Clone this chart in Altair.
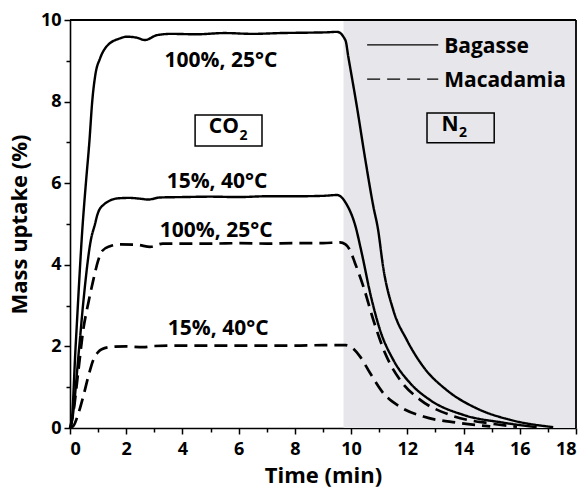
import altair as alt
import pandas as pd

FONT = "Open Sans"

# ---- curve data (time in min, mass uptake in %) ----
bag100_t = [0, 0.05, 0.2, 0.45, 0.57, 0.69, 0.79, 0.9, 1.07, 1.3, 1.78, 2.02, 2.35, 2.67, 3.1, 3.6,
            4.5, 5.5, 6.5, 7.5, 8.5, 9.2, 9.5, 9.8, 9.9, 10.2, 10.5, 10.8, 10.95, 11.15, 11.5, 11.98,
            12.57, 13.4, 14.47, 15.66, 17.19]
bag100_y = [0, 0.1, 2.0, 4.98, 6.04, 7.02, 8.0, 8.65, 9.06, 9.35, 9.55, 9.59, 9.57, 9.51, 9.63, 9.66,
            9.65, 9.68, 9.66, 9.68, 9.69, 9.70, 9.71, 9.5, 9.1, 7.9, 6.6, 5.4, 4.9, 3.9, 2.89, 2.16,
            1.5, 0.93, 0.48, 0.2, 0.02]

bag15_t = [0, 0.05, 0.33, 0.47, 0.74, 0.89, 0.97, 1.19, 1.72, 2.1, 2.5, 2.79, 3.2, 4, 5, 6, 7, 8, 9,
           9.5, 9.85, 10.14, 10.38, 10.68, 11.03, 11.5, 12.1, 12.8, 14.0, 15.42, 16.6]
bag15_y = [0, 0.1, 2.0, 3.06, 4.6, 5.0, 5.22, 5.47, 5.63, 5.64, 5.62, 5.6, 5.65, 5.66, 5.67, 5.66,
           5.68, 5.68, 5.69, 5.71, 5.47, 4.98, 4.28, 3.3, 2.4, 1.67, 1.1, 0.69, 0.32, 0.13, 0.02]

mac100_t = [0, 0.1, 0.3, 0.47, 0.65, 0.83, 1.0, 1.12, 1.4, 1.8, 2.4, 2.85, 3.3, 4, 5, 6, 7, 8, 9,
            9.6, 9.8, 9.96, 10.14, 10.44, 10.79, 11.21, 11.74, 12.46, 13.52, 14.95, 15.9]
mac100_y = [0, 0.3, 1.42, 2.4, 3.06, 3.63, 4.1, 4.32, 4.45, 4.5, 4.49, 4.44, 4.52, 4.52, 4.52, 4.53,
            4.52, 4.53, 4.53, 4.55, 4.5, 4.36, 4.04, 3.46, 2.65, 1.83, 1.18, 0.69, 0.32, 0.11, 0.03]

mac15_t = [0, 0.12, 0.3, 0.47, 0.65, 0.83, 1.0, 1.13, 1.5, 2, 2.6, 3, 4, 5, 6, 7, 8, 9, 9.8, 9.96,
           10.32, 10.68, 11.15, 11.74, 12.57, 13.76, 14.95]
mac15_y = [0, 0.05, 0.36, 0.77, 1.26, 1.67, 1.86, 1.93, 1.99, 2.0, 1.98, 2.01, 2.02, 2.02, 2.02, 2.02,
           2.02, 2.03, 2.03, 2.0, 1.75, 1.34, 0.85, 0.52, 0.28, 0.13, 0.04]

materials = ["Bagasse", "Macadamia"]

# ---- gas switch region and frame ----
n2_start = [9.73]
n2_end = [18]
x_domain = [0, 18]
y_domain = [0, 10]

# ---- curve labels ----
lab_text = ["100%, 25°C", "15%, 40°C", "100%, 25°C", "15%, 40°C"]
lab_x = [5.37, 5.23, 5.2, 5.27]
lab_y = [8.85, 5.88, 4.68, 2.28]

# ---- gas boxes ----
box_x1 = [4.45, 12.7]
box_x2 = [6.83, 15.09]
box_y1 = [6.91, 6.99]
box_y2 = [7.67, 7.72]
box_fill = ["#ffffff", "#e7e6ea"]
gas_main = ["CO", "N"]
gas_main_x = [6.01, 13.82]
gas_main_y = [7.23, 7.28]
gas_sub_x = [6.03, 13.84]
gas_sub_y = [7.06, 7.13]

# ---- legend ----
leg_x1 = [10.57, 10.57]
leg_x2 = [13.1, 13.1]
leg_y = [9.39, 8.55]
leg_text_x = [13.31, 13.31]
leg_text_y = [9.19, 8.36]

rows = []
for name, mat, ts, ys_ in [("bag100", "Bagasse", bag100_t, bag100_y),
                            ("bag15", "Bagasse", bag15_t, bag15_y),
                            ("mac100", "Macadamia", mac100_t, mac100_y),
                            ("mac15", "Macadamia", mac15_t, mac15_y)]:
    for t, v in zip(ts, ys_):
        rows.append({"curve": name, "material": mat, "t": t, "m": v})
curves = pd.DataFrame(rows)

xs = alt.Scale(domain=x_domain, nice=False, zero=False)
ys = alt.Scale(domain=y_domain, nice=False, zero=False)

common_axis = dict(grid=False, domainColor="black", domainWidth=1.6, tickColor="black", tickWidth=1.5,
                   labelFont=FONT, labelFontWeight="bold", labelFontSize=18, labelColor="black",
                   titleFont=FONT, titleFontWeight="bold", titleFontSize=22, titleColor="black")

x_axis = alt.Axis(values=list(range(0, 19, 2)), tickSize=6, labelPadding=6, title="Time (min)",
                  titlePadding=7, orient="bottom", **common_axis)
y_axis = alt.Axis(values=list(range(0, 11, 2)), tickSize=6, labelPadding=3, title="Mass uptake (%)",
                  titlePadding=9, orient="left", **common_axis)
x_minor = alt.Axis(values=list(range(1, 18, 2)), tickSize=4, labels=False, title=None, domain=False,
                   grid=False, tickColor="black", tickWidth=1.5, orient="bottom")
y_minor = alt.Axis(values=list(range(1, 10, 2)), tickSize=4, labels=False, title=None, domain=False,
                   grid=False, tickColor="black", tickWidth=1.5, orient="left")

shade_df = pd.DataFrame({"x": n2_start, "x2": n2_end, "y": [y_domain[0]], "y2": [y_domain[1]]})
shade = alt.Chart(shade_df).mark_rect(color="#e7e6ea").encode(
    x=alt.X("x:Q", scale=xs, axis=x_axis), x2="x2:Q",
    y=alt.Y("y:Q", scale=ys, axis=y_axis), y2="y2:Q")

minor = alt.Chart(shade_df).mark_point(opacity=0).encode(
    x=alt.X("x:Q", scale=xs, axis=x_minor),
    y=alt.Y("y:Q", scale=ys, axis=y_minor))

dash_scale = alt.Scale(domain=materials, range=[[1, 0], [13, 7]])

lines = alt.Chart(curves).mark_line(color="black", interpolate="monotone").encode(
    x=alt.X("t:Q", scale=xs, axis=None),
    y=alt.Y("m:Q", scale=ys, axis=None),
    detail="curve:N",
    strokeDash=alt.StrokeDash("material:N", scale=dash_scale, legend=None),
    strokeWidth=alt.StrokeWidth("material:N", scale=alt.Scale(domain=materials, range=[2.4, 2.7]), legend=None))

lab_df = pd.DataFrame({"x": lab_x, "y": lab_y, "text": lab_text})
labels = alt.Chart(lab_df).mark_text(font=FONT, fontWeight="bold", fontSize=21, align="center",
                                     baseline="alphabetic", color="black").encode(
    x=alt.X("x:Q", scale=xs, axis=None), y=alt.Y("y:Q", scale=ys, axis=None), text="text:N")

box_df = pd.DataFrame({"x": box_x1, "x2": box_x2, "y": box_y1, "y2": box_y2, "fill": box_fill})
boxes = alt.Chart(box_df).mark_rect(stroke="black", strokeWidth=1.5).encode(
    x=alt.X("x:Q", scale=xs, axis=None), x2="x2:Q",
    y=alt.Y("y:Q", scale=ys, axis=None), y2="y2:Q",
    fill=alt.Fill("fill:N", scale=None))

gas_df = pd.DataFrame({"x": gas_main_x, "y": gas_main_y, "text": gas_main})
gas = alt.Chart(gas_df).mark_text(font=FONT, fontWeight="bold", fontSize=21, align="right",
                                  baseline="alphabetic", color="black").encode(
    x=alt.X("x:Q", scale=xs, axis=None), y=alt.Y("y:Q", scale=ys, axis=None), text="text:N")

sub_df = pd.DataFrame({"x": gas_sub_x, "y": gas_sub_y, "text": ["2", "2"]})
sub = alt.Chart(sub_df).mark_text(font=FONT, fontWeight="bold", fontSize=14, align="left",
                                  baseline="alphabetic", color="black").encode(
    x=alt.X("x:Q", scale=xs, axis=None), y=alt.Y("y:Q", scale=ys, axis=None), text="text:N")

leg_df = pd.DataFrame({"x": leg_x1, "x2": leg_x2, "y": leg_y, "material": materials,
                       "tx": leg_text_x, "ty": leg_text_y})
leg_lines = alt.Chart(leg_df).mark_rule(color="black", strokeWidth=1.3).encode(
    x=alt.X("x:Q", scale=xs, axis=None), x2="x2:Q",
    y=alt.Y("y:Q", scale=ys, axis=None),
    strokeDash=alt.StrokeDash("material:N", scale=dash_scale, legend=None))
leg_text = alt.Chart(leg_df).mark_text(font=FONT, fontWeight="bold", fontSize=21, align="left",
                                       baseline="alphabetic", color="black").encode(
    x=alt.X("tx:Q", scale=xs, axis=None), y=alt.Y("ty:Q", scale=ys, axis=None), text="material:N")

# top and right edges of the plot frame (left/bottom come from the axis domains)
frame_df = pd.DataFrame({"fx": [x_domain[0], x_domain[1]], "fx2": [x_domain[1], x_domain[1]],
                         "fy": [y_domain[1], y_domain[0]], "fy2": [y_domain[1], y_domain[1]]})
frame = alt.Chart(frame_df).mark_rule(color="black", strokeWidth=1.8).encode(
    x=alt.X("fx:Q", scale=xs, axis=None), x2="fx2:Q",
    y=alt.Y("fy:Q", scale=ys, axis=None), y2="fy2:Q")

chart = alt.layer(shade, minor, lines, labels, boxes, gas, sub, leg_lines, leg_text, frame).resolve_axis(
    x="independent", y="independent"
).properties(
    width=506, height=408,
    padding={"left": 70, "top": 20, "right": 9, "bottom": 60},
    autosize=alt.AutoSizeParams(type="none"),
    background="white",
).configure_view(stroke=None)

chart.save("out.html", embed_options={"renderer": "svg", "actions": False})
